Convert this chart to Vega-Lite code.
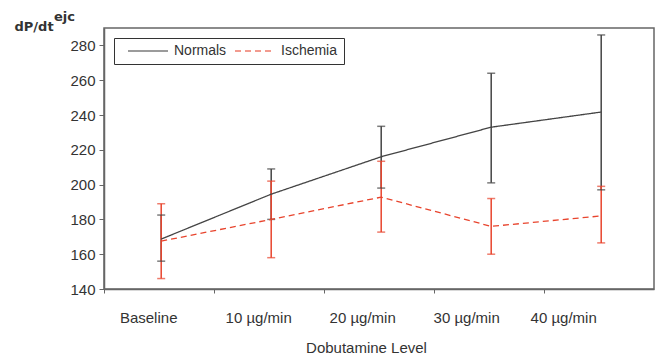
{
  "$schema": "https://vega.github.io/schema/vega-lite/v6.json",
  "autosize": {"type": "none"},
  "width": 550,
  "height": 261,
  "padding": {"left": 104, "top": 28, "right": 9, "bottom": 65},
  "background": "white",
  "title": {"text": "ejc", "anchor": "start", "frame": "group", "dx": -50, "dy": 22, "offset": 8, "baseline": "alphabetic", "font": "DejaVu Sans", "fontSize": 13, "fontWeight": "bold", "color": "#333333"},
  "config": {
    "view": {"stroke": "#666666", "strokeWidth": 1.5},
    "axis": {"labelFont": "Liberation Sans", "labelFontSize": 15, "labelColor": "#333333", "titleFont": "Liberation Sans", "titleFontSize": 15, "titleColor": "#333333", "titleFontWeight": "normal", "domainColor": "#666666", "domainWidth": 1.5, "tickColor": "#666666", "grid": false},
    "legend": {"labelFont": "Liberation Sans", "labelFontSize": 14, "labelColor": "#333333"}
  },
  "data": {"values": [
    {"level": "Baseline", "group": "Normals", "mean": 168.7, "lo": 156, "hi": 182.5},
    {"level": "10 µg/min", "group": "Normals", "mean": 194.5, "lo": 180, "hi": 209},
    {"level": "20 µg/min", "group": "Normals", "mean": 216, "lo": 198, "hi": 233.5},
    {"level": "30 µg/min", "group": "Normals", "mean": 233, "lo": 201, "hi": 264},
    {"level": "40 µg/min", "group": "Normals", "mean": 241.7, "lo": 197, "hi": 286},
    {"level": "Baseline", "group": "Ischemia", "mean": 167.5, "lo": 146, "hi": 189},
    {"level": "10 µg/min", "group": "Ischemia", "mean": 180, "lo": 158, "hi": 202},
    {"level": "20 µg/min", "group": "Ischemia", "mean": 192.8, "lo": 172.7, "hi": 213.4},
    {"level": "30 µg/min", "group": "Ischemia", "mean": 176, "lo": 160, "hi": 192},
    {"level": "40 µg/min", "group": "Ischemia", "mean": 182, "lo": 166.5, "hi": 199}
  ]},
  "encoding": {
    "x": {"field": "level", "type": "ordinal", "sort": null,
      "scale": {"type": "point", "padding": 0.5, "align": 0.52},
      "axis": {"title": "Dobutamine Level", "labelAngle": 0, "labelPadding": 17, "tickSize": 4, "tickOffset": -57, "titleY": 63, "titleX": 262, "titleBaseline": "alphabetic",
        "labelOffset": {"condition": [
          {"test": "datum.value == 'Baseline'", "value": 44},
          {"test": "datum.value == '10 µg/min'", "value": 44},
          {"test": "datum.value == '20 µg/min'", "value": 38},
          {"test": "datum.value == '30 µg/min'", "value": 32}
        ], "value": 19}}
    },
    "color": {"field": "group", "type": "nominal", "sort": null, "scale": {"domain": ["Normals", "Ischemia"], "range": ["#444444", "#e8442d"]},
      "legend": {"title": null, "orient": "top-left", "direction": "horizontal", "offset": 10, "padding": 6, "strokeColor": "#333333", "symbolType": "M-4,0H4", "symbolSize": 100, "symbolOffset": 21, "symbolStrokeWidth": 1.3, "labelOffset": 19, "columnPadding": 0}}
  },
  "layer": [
    {
      "mark": {"type": "rule", "strokeWidth": 1.5},
      "encoding": {
        "y": {"field": "lo", "type": "quantitative", "scale": {"domain": [140, 290], "nice": false, "zero": false},
          "axis": {"title": "dP/dt", "values": [140, 160, 180, 200, 220, 240, 260, 280], "labelOverlap": false, "tickSize": 5, "labelPadding": 4, "titleAngle": 0, "titleAlign": "left", "titleBaseline": "alphabetic", "titleX": -90, "titleY": 2, "titleFont": "DejaVu Sans", "titleFontSize": 13, "titleFontWeight": "bold"}},
        "y2": {"field": "hi"}
      }
    },
    {
      "mark": {"type": "tick", "orient": "horizontal", "size": 8, "thickness": 1.5},
      "encoding": {
        "y": {"field": "lo", "type": "quantitative",
          "axis": {"title": "dP/dt", "values": [140, 160, 180, 200, 220, 240, 260, 280], "labelOverlap": false, "tickSize": 5, "labelPadding": 4, "titleAngle": 0, "titleAlign": "left", "titleBaseline": "alphabetic", "titleX": -90, "titleY": 2, "titleFont": "DejaVu Sans", "titleFontSize": 13, "titleFontWeight": "bold"}}
      }
    },
    {
      "mark": {"type": "tick", "orient": "horizontal", "size": 8, "thickness": 1.5},
      "encoding": {
        "y": {"field": "hi", "type": "quantitative",
          "axis": {"title": "dP/dt", "values": [140, 160, 180, 200, 220, 240, 260, 280], "labelOverlap": false, "tickSize": 5, "labelPadding": 4, "titleAngle": 0, "titleAlign": "left", "titleBaseline": "alphabetic", "titleX": -90, "titleY": 2, "titleFont": "DejaVu Sans", "titleFontSize": 13, "titleFontWeight": "bold"}}
      }
    },
    {
      "mark": {"type": "line", "strokeWidth": 1.3},
      "encoding": {
        "y": {"field": "mean", "type": "quantitative",
          "axis": {"title": "dP/dt", "values": [140, 160, 180, 200, 220, 240, 260, 280], "labelOverlap": false, "tickSize": 5, "labelPadding": 4, "titleAngle": 0, "titleAlign": "left", "titleBaseline": "alphabetic", "titleX": -90, "titleY": 2, "titleFont": "DejaVu Sans", "titleFontSize": 13, "titleFontWeight": "bold"}},
        "strokeDash": {"field": "group", "type": "nominal", "sort": null, "scale": {"domain": ["Normals", "Ischemia"], "range": [[1, 0], [6, 4]]},
          "legend": {"title": null, "orient": "top-left", "direction": "horizontal", "offset": 10, "padding": 6, "strokeColor": "#333333", "symbolType": "M-4,0H4", "symbolSize": 100, "symbolOffset": 21, "symbolStrokeWidth": 1.3, "labelOffset": 19, "columnPadding": 0}}
      }
    }
  ]
}
